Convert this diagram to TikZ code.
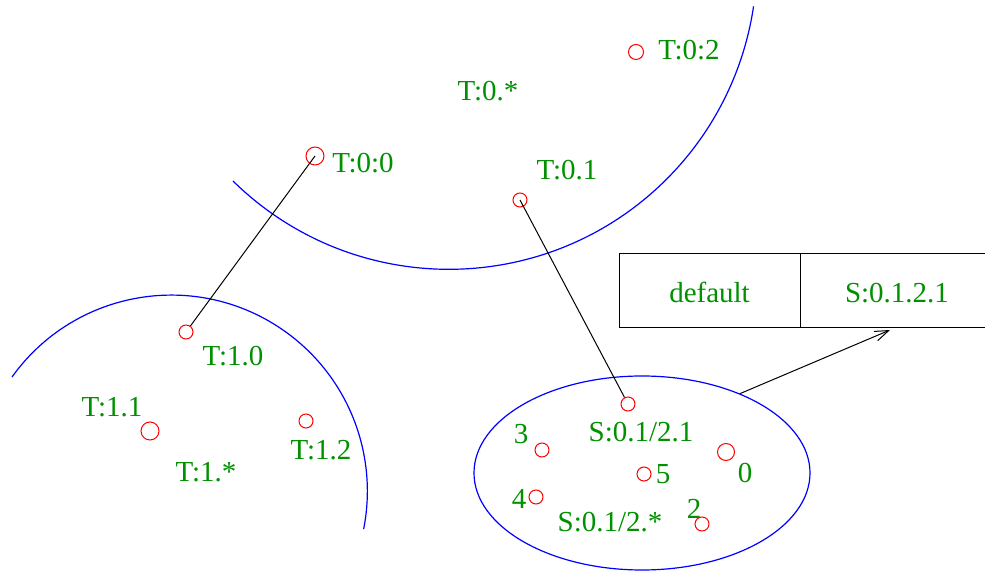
\documentclass[tikz,border=0pt]{standalone}
\usepackage{fontspec}
\setmainfont{Liberation Serif}
\usepackage{xcolor}
\definecolor{figgreen}{RGB}{0,144,0}
\usetikzlibrary{shapes.geometric,arrows.meta}

\begin{document}
\begin{tikzpicture}[x=0.5pt,y=-0.5pt,
  ring/.style={circle,draw=red,line width=0.5pt,inner sep=0pt},
  lbl/.style={text=figgreen,inner sep=0pt,text height=9.6pt,text depth=0pt,
    font=\fontsize{14.5}{17}\selectfont},
  zone/.style={draw=blue,line width=0.6pt},
  cell/.style={draw,line width=0.5pt,minimum height=37pt,inner sep=0pt,
    text=figgreen,text height=12pt,text depth=0pt,font=\fontsize{14.5}{17}\selectfont},
  link/.style={line width=0.5pt}]
  \useasboundingbox (0,0) rectangle (985,576);

  % partitions
  \draw[zone] (233,181) arc[start angle=134.5, end angle=8.4, radius=308];
  \draw[zone] (12,377) arc[start angle=215.6, end angle=371.2, radius=196];
  \node[ellipse,zone,inner sep=0pt,minimum width=168pt,minimum height=97pt] (ell) at (642,473) {};

  % replicas
  \foreach \n/\x/\y/\r in {c00/315/156/9, c02/636/52/7.5, c01/520/200/7,
      c10/186/332/7, c11/150/431/9, c12/306/421/7,
      c021/628/404/7, c3/542/450/7, c0/726/452/8.5, c5/644/474/7,
      c4/536/497/7, c2/702/524/7}
    \node[ring,minimum size=\r pt] (\n) at (\x,\y) {};

  \node[lbl] (t00) at (363,163) {T:0:0};
  \node[lbl] (t02) at (689,50) {T:0:2};
  \node[lbl] (t0s) at (488,91) {T:0.*};
  \node[lbl] (t01) at (567,170) {T:0.1};
  \node[lbl] (t10) at (233,356) {T:1.0};
  \node[lbl] (t11) at (112,407) {T:1.1};
  \node[lbl] (t1s) at (206,472) {T:1.*};
  \node[lbl] (t12) at (321,450) {T:1.2};
  \node[lbl] (s021) at (641,432) {S:0.1/2.1};
  \node[lbl] (s02s) at (610,522) {S:0.1/2.*};
  \node[lbl] (n3) at (521,434) {3};
  \node[lbl] (n5) at (663,474) {5};
  \node[lbl] (n0) at (745,473) {0};
  \node[lbl] (n4) at (519,499) {4};
  \node[lbl] (n2) at (694,509) {2};

  \draw[link] (c00.center) -- (c10);
  \draw[link] (c01.center) -- (c021);

  % table
  \node[cell,minimum width=90.5pt] (dflt) at (709.5,291) {default};
  \node[cell,minimum width=97pt] (sid) at (897,291) {S:0.1.2.1};
  \coordinate (tip) at (890,330);
  \draw[link,-{Straight Barb[length=7pt,width=5pt]}] (ell.39) -- (tip);
\end{tikzpicture}
\end{document}
